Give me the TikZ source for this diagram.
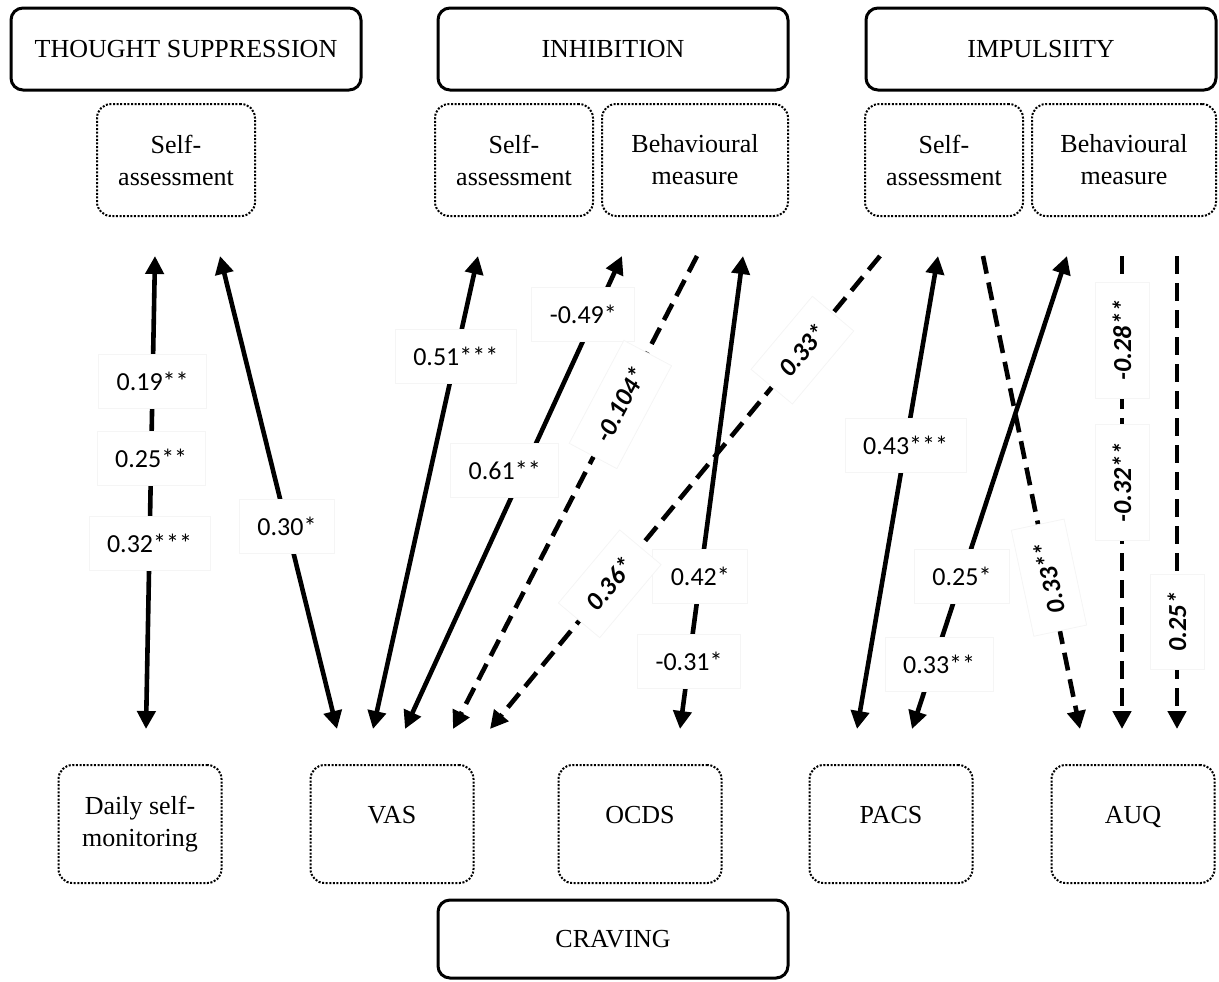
\documentclass[tikz,border=0pt]{standalone}
\usepackage{fontspec}
\setmainfont{Liberation Serif}
\newfontfamily\numfont{Carlito}
\usepackage{tikz}
\usetikzlibrary{arrows.meta, calc, positioning}

\tikzset{
  bigbox/.style={draw, line width=1.5pt, rounded corners=6pt, minimum width=175pt, minimum height=41pt},
  dotbox/.style={draw, line width=1pt, dash pattern=on 1pt off 0.8pt, rounded corners=7pt, align=center, inner sep=2pt},
  link/.style={line width=2.3pt, >={Triangle[length=9pt,width=9pt]}},
  twoway/.style={link, <->},
  oneway/.style={link, ->, dash pattern=on 9pt off 4.5pt},
  num/.style={fill=white, draw=black!4, line width=0.4pt, solid, inner xsep=9pt, minimum height=27pt,
    font=\numfont\fontsize{13pt}{15pt}\selectfont},
  bnum/.style={num, font=\numfont\bfseries\itshape\fontsize{13pt}{15pt}\selectfont},
}

\begin{document}
\begin{tikzpicture}[x=0.5pt, y=-0.5pt, font=\fontsize{13pt}{16pt}\selectfont]
\useasboundingbox (0,0) rectangle (1219,981);
\foreach \X/\x [count=\Y] in {THOUGHT SUPPRESSION/186, INHIBITION/613, IMPULSIITY/1041}
  \node[bigbox] (T-\Y) at (\x,49) {\X};
\node[bigbox, minimum height=39pt] (C) at (613,939) {CRAVING};
\foreach \X/\x/\w [count=\Y] in {{Self-\\assessment}/176/79, {Self-\\assessment}/514/79,
  {Behavioural\\measure}/695/93, {Self-\\assessment}/944/79, {Behavioural\\measure}/1124/92}
  \node[dotbox, minimum width=\w pt, minimum height=56pt] (S-\Y) at (\x,160) {\X};
\node[dotbox, minimum width=81.5pt, minimum height=59pt] (B-1) at (140,824) {Daily self-\\monitoring};
\foreach \X/\x [count=\Y from 2] in {VAS/392, OCDS/640, PACS/891, AUQ/1133}
  \node[dotbox, minimum width=81.5pt, minimum height=59pt, text depth=9pt] (B-\Y) at (\x,824) {\X};
\foreach \xa/\xb/\s [count=\i] in {155/146/twoway, 220/337/twoway, 478/373/twoway, 622/405/twoway,
  697/453/oneway, 880/490/oneway, 743/680/twoway, 938/857/twoway, 983/1080/oneway,
  1067/912/twoway, 1122/1122/oneway, 1177/1177/oneway}
  {\coordinate (u-\i) at (\xa,256);
   \coordinate (l-\i) at (\xb,729);
   \draw[\s] (u-\i) -- (l-\i);}
\foreach \i/\p/\s/\t [count=\k] in {1/0.265/0/0.19**, 1/0.428/0/0.25**, 1/0.608/0/0.32***,
  2/0.572/0/0.30*, 3/0.212/0/0.51***, 4/0.123/-6/-0.49*, 4/0.453/-9.5/0.61**,
  7/0.678/0/0.42*, 7/0.856/0/-0.31*, 8/0.40/0/0.43***, 10/0.678/0/0.25*, 10/0.864/3/0.33**}
  \node[num, xshift=\s pt] (n-\k) at ($(u-\i)!\p!(l-\i)$) {\t};
\foreach \i/\p/\r/\t [count=\k] in {5/0.314/62/-0.104*, 6/0.199/50/0.33*, 6/0.693/50/0.36*,
  9/0.68/102/0.33**, 11/0.178/90/-0.28**, 11/0.479/90/-0.32**, 12/0.773/90/0.25*}
  \node[bnum, rotate=\r] (r-\k) at ($(u-\i)!\p!(l-\i)$) {\t};
\end{tikzpicture}
\end{document}
